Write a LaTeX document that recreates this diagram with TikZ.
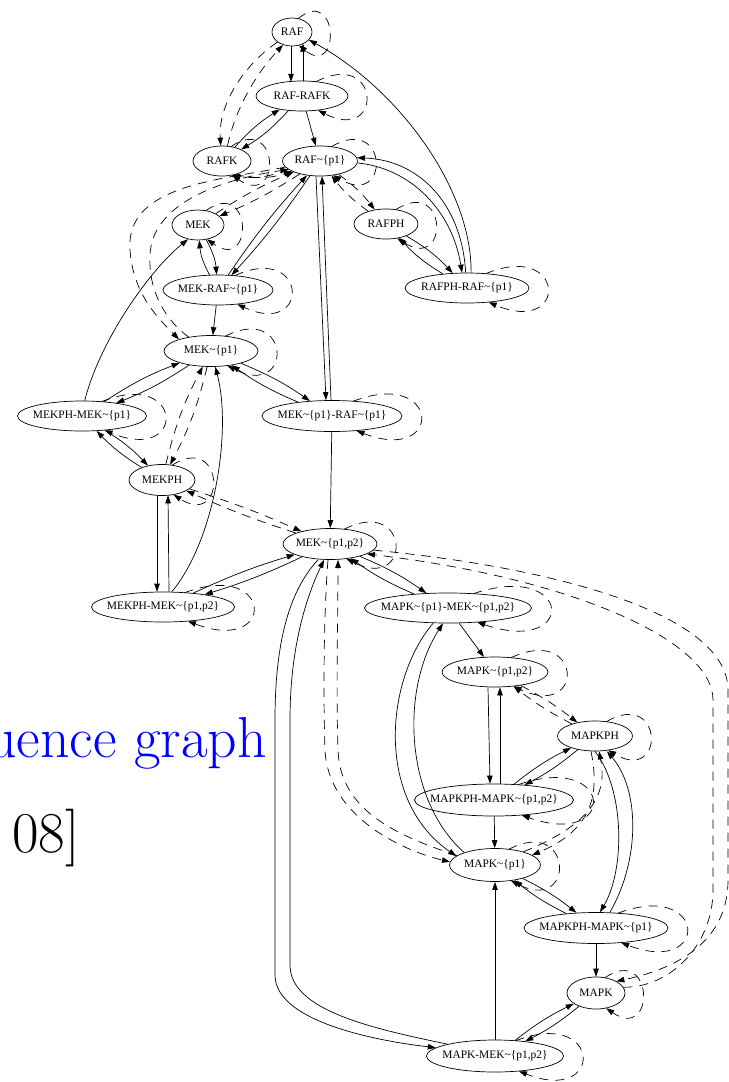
\documentclass[tikz,border=0pt]{standalone}
\usepackage{fontspec}
\newfontfamily\gvfont{Liberation Serif}
\usetikzlibrary{arrows.meta,shapes.geometric,calc}
\newcommand\gvl[1]{\makebox[0pt]{#1}}
\newcommand\gvt{\textasciitilde}
\newcommand\sloop[3]{\draw[dd] ($(#1.center)+(0.3*#2,-0.95*#3)$) .. controls +({0.933*#2+22.7},-34) and +({0.933*#2+22.7},34) .. ($(#1.center)+(0.35*#2,0.95*#3)$);}
\begin{document}
\begin{tikzpicture}[x=1bp,y=-1bp,
  nd/.style={draw, ellipse, inner sep=0pt, line width=0.7bp, font={\gvfont\fontsize{11.5}{13}\selectfont}},
  ed/.style={line width=0.7bp, -{Triangle[length=8bp,width=5.5bp]}},
  dd/.style={ed, dash pattern=on 9bp off 7bp}]
\useasboundingbox (0,0) rectangle (729,1082);
% slide text
\node[anchor=base east, inner sep=0pt, text=blue, font=\fontsize{58}{66}\selectfont] (t1) at (267,757) {uence graph};
\node[anchor=base west, inner sep=0pt, text=black, font=\fontsize{58}{66}\selectfont] (t2) at (12,852) {08]};
% nodes
\node[nd,minimum width=40bp,minimum height=28bp] (raf) at (292,32) {\gvl{RAF}};
\node[nd,minimum width=92bp,minimum height=30bp] (rafrafk) at (302,96) {\gvl{RAF-RAFK}};
\node[nd,minimum width=58bp,minimum height=30bp] (rafk) at (222,161) {\gvl{RAFK}};
\node[nd,minimum width=75bp,minimum height=30bp] (rafp) at (320,161) {\gvl{RAF\gvt\{p1\}}};
\node[nd,minimum width=52bp,minimum height=30bp] (mek) at (198,225) {\gvl{MEK}};
\node[nd,minimum width=64bp,minimum height=30bp] (rafph) at (386,224) {\gvl{RAFPH}};
\node[nd,minimum width=110bp,minimum height=30bp] (mekrafp) at (218,290) {\gvl{MEK-RAF\gvt\{p1\}}};
\node[nd,minimum width=124bp,minimum height=30bp] (rafphrafp) at (467,288) {\gvl{RAFPH-RAF\gvt\{p1\}}};
\node[nd,minimum width=94bp,minimum height=31bp] (mekp) at (211,351) {\gvl{MEK\gvt\{p1\}}};
\node[nd,minimum width=129bp,minimum height=30bp] (mekphmekp) at (82,416) {\gvl{MEKPH-MEK\gvt\{p1\}}};
\node[nd,minimum width=140bp,minimum height=31bp] (mekprafp) at (332,416) {\gvl{MEK\gvt\{p1\}-RAF\gvt\{p1\}}};
\node[nd,minimum width=66bp,minimum height=31bp] (mekph) at (162,480) {\gvl{MEKPH}};
\node[nd,minimum width=94bp,minimum height=31bp] (mekpp) at (330,544) {\gvl{MEK\gvt\{p1,p2\}}};
\node[nd,minimum width=143bp,minimum height=30bp] (mekphmekpp) at (163,607) {\gvl{MEKPH-MEK\gvt\{p1,p2\}}};
\node[nd,minimum width=167bp,minimum height=30bp] (mapkpmekpp) at (448,608) {\gvl{MAPK\gvt\{p1\}-MEK\gvt\{p1,p2\}}};
\node[nd,minimum width=106bp,minimum height=30bp] (mapkpp) at (495,672) {\gvl{MAPK\gvt\{p1,p2\}}};
\node[nd,minimum width=75bp,minimum height=30bp] (mapkph) at (595,736) {\gvl{MAPKPH}};
\node[nd,minimum width=159bp,minimum height=32bp] (mapkphmapkpp) at (494,800) {\gvl{MAPKPH-MAPK\gvt\{p1,p2\}}};
\node[nd,minimum width=91bp,minimum height=33bp] (mapkp) at (495,865) {\gvl{MAPK\gvt\{p1\}}};
\node[nd,minimum width=144bp,minimum height=31bp] (mapkphmapkp) at (596,928) {\gvl{MAPKPH-MAPK\gvt\{p1\}}};
\node[nd,minimum width=58bp,minimum height=32bp] (mapk) at (596,993) {\gvl{MAPK}};
\node[nd,minimum width=137bp,minimum height=32bp] (mapkmekpp) at (495,1056) {\gvl{MAPK-MEK\gvt\{p1,p2\}}};
% solid pairs
\draw[ed] ($(raf.center)+(-1,14)$) -- ($(rafrafk.center)+(-11,-14.2)$);
\draw[ed] ($(rafrafk.center)+(1,-15)$) -- ($(raf.center)+(11,11.7)$);
\draw[ed] (rafk) to[bend left=8] (rafrafk); \draw[ed] (rafrafk) to[bend left=8] (rafk);
\draw[ed] (rafph) to[bend left=8] (rafphrafp); \draw[ed] (rafphrafp) to[bend left=8] (rafph);
\draw[ed] (mek) to[bend left=12] (mekrafp); \draw[ed] (mekrafp) to[bend left=12] (mek);
\draw[ed] (rafp) to[bend left=4] (mekrafp); \draw[ed] (mekrafp) to[bend left=4] (rafp);
\draw[ed] (mekp) to[bend left=6] (mekphmekp); \draw[ed] (mekphmekp) to[bend left=6] (mekp);
\draw[ed] (mekp) to[bend left=6] (mekprafp); \draw[ed] (mekprafp) to[bend left=6] (mekp);
\draw[ed] ($(rafp.south)+(-4,0)$) -- ($(mekprafp.north)+(-6,0)$);
\draw[ed] ($(mekprafp.north)+(-1,0)$) -- ($(rafp.south)+(2,0)$);
\draw[ed] (mekphmekp) to[bend left=7] (mekph); \draw[ed] (mekph) to[bend left=7] (mekphmekp);
\draw[ed] ($(mekph.south)+(-5,-0.3)$) -- ($(mekphmekpp.north)+(-6,0)$);
\draw[ed] ($(mekphmekpp.north)+(6,0)$) -- ($(mekph.south)+(6,-0.5)$);
\draw[ed] (mekpp) to[bend left=4] (mekphmekpp); \draw[ed] (mekphmekpp) to[bend left=4] (mekpp);
\draw[ed] (mekpp) to[bend left=6] (mapkpmekpp); \draw[ed] (mapkpmekpp) to[bend left=6] (mekpp);
\draw[ed] ($(mapkpp.south)+(-7,0)$) -- ($(mapkphmapkpp.north)+(-4,0)$);
\draw[ed] ($(mapkphmapkpp.north)+(6,0)$) -- ($(mapkpp.south)+(5,0)$);
\draw[ed] (mapkph) to[bend left=6] (mapkphmapkpp); \draw[ed] (mapkphmapkpp) to[bend left=6] (mapkph);
\draw[ed] (mapkp) to[bend left=6] (mapkphmapkp); \draw[ed] (mapkphmapkp) to[bend left=6] (mapkp);
\draw[ed] (mapk) to[bend left=6] (mapkmekpp); \draw[ed] (mapkmekpp) to[bend left=6] (mapk);
% solid singles
\draw[ed] (rafrafk) -- (rafp);
\draw[ed] (mekrafp) -- (mekp);
\draw[ed] (mekprafp) -- (mekpp);
\draw[ed] (mapkpmekpp) -- (mapkpp);
\draw[ed] (mapkphmapkpp) -- (mapkp);
\draw[ed] (mapkphmapkp) -- (mapk);
\draw[ed] (mapkmekpp) -- (mapkp);
% solid curves
\draw[ed] (rafphrafp.75) .. controls (472,190) and (400,90) .. (raf.-25);
\draw[ed] (rafp.-3) .. controls (410,168) and (452,210) .. (rafphrafp.108);
\draw[ed] (rafphrafp.95) .. controls (462,205) and (420,160) .. (rafp.5);
\draw[ed] (mekphmekp.80) .. controls (100,340) and (150,270) .. (mek.-125);
\draw[ed] (mekphmekpp.60) .. controls (215,540) and (232,430) .. (mekp.-75);
\draw[ed] ($(mapkpmekpp.south)+(-15,0)$) .. controls (385,680) and (375,800) .. (mapkp.167);
\draw[ed] (mapkp.158) .. controls (405,800) and (400,690) .. ($(mapkpmekpp.south)+(-5,0)$);
\draw[ed] (mapkph.south) .. controls (625,790) and (625,870) .. ($(mapkphmapkp.north)+(4,0)$);
\draw[ed] ($(mapkphmapkp.north)+(14,0)$) .. controls (640,860) and (640,790) .. ($(mapkph.south)+(12,0)$);
\draw[ed] ($(mekpp.south)+(-12,0)$) .. controls (290,590) and (275,640) .. (275,720) -- (275,975) .. controls (275,1020) and (370,1040) .. (mapkmekpp.172);
\draw[ed] (mapkmekpp.166) .. controls (370,1028) and (290,1010) .. (290,965) -- (290,720) .. controls (290,650) and (305,600) .. ($(mekpp.south)+(-6,0)$);
% dashed
\draw[dd] (raf.-145) .. controls (250,60) and (218,100) .. (rafk.95);
\draw[dd] (rafk.70) .. controls (235,110) and (255,75) .. (raf.-125);
\draw[dd] (rafk.-45) to[bend right=15] (rafp.-160);
\draw[dd] (rafp.-165) to[bend left=15] (rafk.-55);
\draw[dd] (mek) to[bend left=5] (rafp); \draw[dd] (rafp) to[bend left=5] (mek);
\draw[dd] (rafp.-170) .. controls (220,180) and (125,185) .. (130,250) .. controls (133,295) and (160,320) .. (mekp.160);
\draw[dd] (mekp.148) .. controls (165,320) and (148,290) .. (150,255) .. controls (152,200) and (230,178) .. (rafp.-165);
\draw[dd] (rafp) to[bend left=8] (rafph); \draw[dd] (rafph) to[bend left=8] (rafp);
\draw[dd] (mekp) to[bend left=7] (mekph); \draw[dd] (mekph) to[bend left=7] (mekp);
\draw[dd] (mekph) to[bend left=3] (mekpp); \draw[dd] (mekpp) to[bend left=3] (mekph);
\draw[dd] ($(mekpp.south)+(-2,0)$) .. controls (324,610) and (323,690) .. (325,750) .. controls (328,815) and (400,850) .. (mapkp.176);
\draw[dd] (mapkp.166) .. controls (395,835) and (340,810) .. (338,750) .. controls (336,690) and (338,610) .. ($(mekpp.south)+(8,0)$);
\draw[dd] (mekpp.-8) .. controls (560,568) and (728,615) .. (728,690) -- (728,880) .. controls (728,940) and (680,968) .. (mapk.30);
\draw[dd] (mapk.12) .. controls (670,988) and (713,945) .. (713,890) -- (713,700) .. controls (713,640) and (570,578) .. (mekpp.-15);
\draw[dd] (mapkpp) to[bend left=5] (mapkph); \draw[dd] (mapkph) to[bend left=5] (mapkpp);
\draw[dd] ($(mapkph.south)+(-4,0)$) .. controls (600,795) and (592,830) .. (mapkp.15);
\draw[dd] (mapkp.25) .. controls (590,825) and (608,795) .. ($(mapkph.south)+(4,0)$);
% self loops
\sloop{raf}{20}{14}
\sloop{rafrafk}{46}{15}
\sloop{rafk}{29}{15}
\sloop{rafp}{37.5}{15}
\sloop{mek}{26}{15}
\sloop{rafph}{32}{15}
\sloop{mekrafp}{55}{15}
\sloop{rafphrafp}{62}{15}
\sloop{mekp}{47}{15.5}
\sloop{mekphmekp}{64.5}{15}
\sloop{mekprafp}{70}{15.5}
\sloop{mekph}{33}{15.5}
\sloop{mekpp}{47}{15.5}
\sloop{mekphmekpp}{71.5}{15}
\sloop{mapkpmekpp}{83.5}{15}
\sloop{mapkpp}{53}{15}
\sloop{mapkph}{37.5}{15}
\sloop{mapkphmapkpp}{79.5}{16}
\sloop{mapkp}{45.5}{16.5}
\sloop{mapkphmapkp}{72}{15.5}
\sloop{mapk}{29}{16}
\sloop{mapkmekpp}{68.5}{16}
\end{tikzpicture}
\end{document}
